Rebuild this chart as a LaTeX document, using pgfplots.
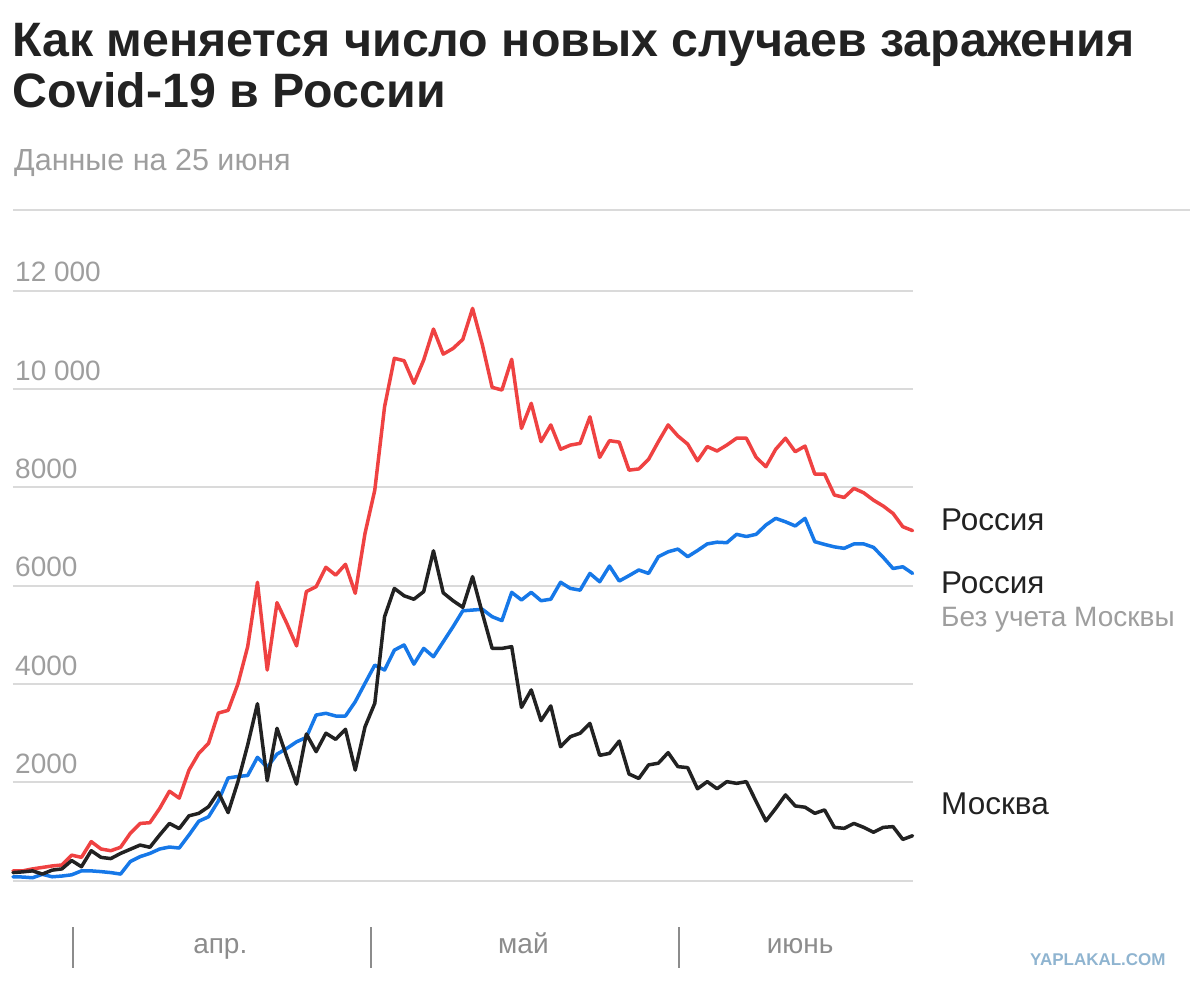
\documentclass[border=0pt]{standalone}
\usepackage{pgfplots}
\pgfplotsset{compat=1.18}
\usepackage{pgfplotstable}
\usepackage{fontspec}
\setmainfont{Liberation Sans}
\definecolor{cred}{RGB}{239,66,66}
\definecolor{cblue}{RGB}{22,120,232}
\definecolor{cblack}{RGB}{34,34,34}
\definecolor{cgrid}{RGB}{218,218,218}
\definecolor{cgray}{RGB}{158,158,158}
\definecolor{cmonth}{RGB}{140,140,140}
\definecolor{cwm}{RGB}{143,180,208}

\pgfplotstableread{
d v
0 200
1 200
2 240
3 270
4 300
5 320
6 520
7 475
8 795
9 645
10 610
11 680
12 965
13 1165
14 1180
15 1470
16 1820
17 1680
18 2250
19 2590
20 2795
21 3410
22 3465
23 4000
24 4760
25 6070
26 4285
27 5655
28 5235
29 4775
30 5880
31 5980
32 6375
33 6215
34 6435
35 5845
36 7065
37 7945
38 9640
39 10625
40 10575
41 10115
42 10590
43 11220
44 10710
45 10825
46 11010
47 11640
48 10900
49 10035
50 9980
51 10605
52 9200
53 9710
54 8930
55 9270
56 8775
57 8860
58 8895
59 9435
60 8610
61 8950
62 8920
63 8350
64 8375
65 8570
66 8930
67 9270
68 9045
69 8880
70 8540
71 8830
72 8740
73 8860
74 9000
75 9000
76 8610
77 8420
78 8775
79 9000
80 8725
81 8840
82 8270
83 8270
84 7845
85 7795
86 7980
87 7890
88 7740
89 7620
90 7470
91 7200
92 7120
}\russia

\pgfplotstableread{
d v
0 80
1 75
2 60
3 130
4 80
5 95
6 120
7 200
8 200
9 185
10 165
11 135
12 390
13 490
14 555
15 645
16 685
17 665
18 930
19 1210
20 1300
21 1620
22 2090
23 2120
24 2140
25 2510
26 2305
27 2575
28 2690
29 2825
30 2915
31 3370
32 3405
33 3350
34 3350
35 3640
36 4015
37 4385
38 4285
39 4690
40 4795
41 4405
42 4725
43 4555
44 4860
45 5165
46 5490
47 5505
48 5520
49 5370
50 5290
51 5865
52 5710
53 5865
54 5695
55 5725
56 6070
57 5945
58 5910
59 6250
60 6080
61 6400
62 6095
63 6205
64 6320
65 6250
66 6590
67 6690
68 6745
69 6590
70 6715
71 6850
72 6885
73 6875
74 7045
75 7000
76 7045
77 7235
78 7370
79 7300
80 7215
81 7370
82 6895
83 6840
84 6790
85 6760
86 6850
87 6850
88 6780
89 6575
90 6350
91 6385
92 6250
}\regions

\pgfplotstableread{
d v
0 165
1 180
2 200
3 135
4 215
5 240
6 410
7 285
8 610
9 475
10 450
11 555
12 640
13 725
14 680
15 930
16 1165
17 1060
18 1320
19 1370
20 1505
21 1800
22 1385
23 2010
24 2760
25 3600
26 2035
27 3100
28 2520
29 1965
30 2985
31 2625
32 3000
33 2875
34 3080
35 2250
36 3130
37 3610
38 5370
39 5945
40 5795
41 5725
42 5880
43 6710
44 5855
45 5695
46 5560
47 6185
48 5440
49 4725
50 4725
51 4760
52 3525
53 3880
54 3255
55 3555
56 2725
57 2930
58 3000
59 3200
60 2550
61 2590
62 2840
63 2170
64 2080
65 2355
66 2390
67 2605
68 2320
69 2300
70 1870
71 2015
72 1870
73 2015
74 1980
75 2015
76 1610
77 1215
78 1470
79 1745
80 1520
81 1495
82 1370
83 1440
84 1085
85 1065
86 1165
87 1085
88 985
89 1085
90 1100
91 840
92 915
}\moscow

\begin{document}
\begin{tikzpicture}[x=1pt,y=1pt]
\path[use as bounding box] (0,0) rectangle (1190,-982);
\node[anchor=base west, inner sep=0pt, text=cblack, font=\bfseries\fontsize{48.3}{48.3}\selectfont] at (12,-56.7) {Как меняется число новых случаев заражения};
\node[anchor=base west, inner sep=0pt, text=cblack, font=\bfseries\fontsize{48.3}{48.3}\selectfont] at (12,-107) {Covid-19 в России};
\node[anchor=base west, inner sep=0pt, text=cgray, font=\fontsize{30.5}{30.5}\selectfont] at (14,-170) {Данные на 25 июня};
\draw[cgrid, line width=2pt] (13,-209.5) -- (1190,-209.5);

\begin{axis}[at={(13pt,-880.7pt)}, anchor=south west, scale only axis,
  width=899.6pt, height=590pt,
  xmin=0, xmax=92, ymin=0, ymax=12000, clip=false,
  axis line style={draw=none},
  scaled y ticks=false,
  ymajorgrids, grid style={cgrid, line width=2pt},
  ytick={0,2000,4000,6000,8000,10000,12000},
  yticklabels={,2000,4000,6000,8000,10 000,12 000},
  yticklabel style={anchor=base west, inner sep=0pt, xshift=2pt, yshift=9pt, text=cgray, font=\fontsize{28}{28}\selectfont},
  xtick={21.2,52.2,80.5},
  xticklabels={апр.,май,июнь},
  xticklabel style={anchor=base, inner sep=0pt, yshift=-72.3pt, text=cmonth, font=\fontsize{28}{28}\selectfont},
  major tick length=0pt, tick style={draw=none},
  /pgf/number format/assume math mode=true]
\addplot[cred, line width=3.5pt, line join=round, line cap=round, mark=none] table[x=d,y=v] {\russia};
\addplot[cblue, line width=3.5pt, line join=round, line cap=round, mark=none] table[x=d,y=v] {\regions};
\addplot[cblack, line width=3.5pt, line join=round, line cap=round, mark=none] table[x=d,y=v] {\moscow};
\draw[cmonth, line width=2pt] (axis cs:6.13,0) ++(0pt,-46.3pt) -- ++(0pt,-41pt);
\draw[cmonth, line width=2pt] (axis cs:36.6,0) ++(0pt,-46.3pt) -- ++(0pt,-41pt);
\draw[cmonth, line width=2pt] (axis cs:68.1,0) ++(0pt,-46.3pt) -- ++(0pt,-41pt);
\end{axis}

\node[anchor=base west, inner sep=0pt, text=cblack, font=\fontsize{31.5}{31.5}\selectfont] at (941,-530) {Россия};
\node[anchor=base west, inner sep=0pt, text=cblack, font=\fontsize{31.5}{31.5}\selectfont] at (941,-593.3) {Россия};
\node[anchor=base west, inner sep=0pt, text=cgray, font=\fontsize{28}{28}\selectfont] at (941,-626.7) {Без учета Москвы};
\node[anchor=base west, inner sep=0pt, text=cblack, font=\fontsize{31.5}{31.5}\selectfont] at (941,-814) {Москва};
\node[anchor=base west, inner sep=0pt, text=cwm, font=\bfseries\fontsize{17}{17}\selectfont] at (1030,-965) {YAPLAKAL.COM};
\end{tikzpicture}
\end{document}
